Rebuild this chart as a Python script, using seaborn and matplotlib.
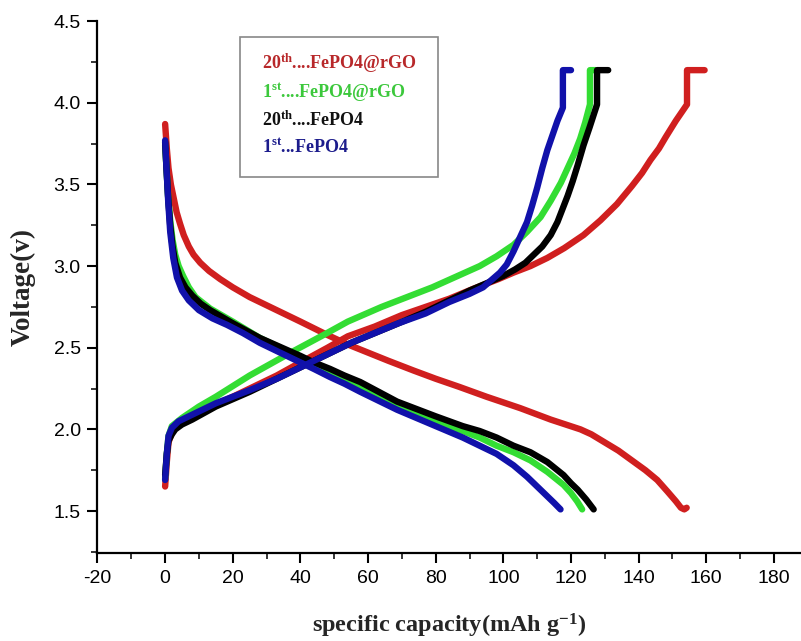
import numpy as np
import pandas as pd
import matplotlib
matplotlib.use("Agg")
import matplotlib.pyplot as plt
import seaborn as sns
from matplotlib.patches import Rectangle
from matplotlib.ticker import MultipleLocator

# ---------------- data ----------------
series_names = ["20th FePO4@rGO", "1st FePO4@rGO", "20th FePO4", "1st FePO4"]

# 20th cycle, FePO4@rGO (red)
red_chg_cap = [0, 0.5, 1, 2, 3, 5, 8, 15, 25, 33, 40, 48, 54, 62, 70, 77, 84, 91, 98.5, 103, 108,
               113, 118, 123.7, 128.7, 133.6, 138, 141, 143.5, 146, 148, 151, 154.3, 154.3, 159.5]
red_chg_v = [1.65, 1.80, 1.92, 1.98, 2.01, 2.04, 2.07, 2.15, 2.25, 2.33, 2.41, 2.50, 2.57, 2.63,
             2.70, 2.75, 2.80, 2.86, 2.92, 2.96, 3.00, 3.05, 3.11, 3.19, 3.28, 3.38, 3.49, 3.57,
             3.65, 3.72, 3.79, 3.89, 3.99, 4.20, 4.20]
red_dis_cap = [0, 0.5, 1, 1.7, 2.5, 3.4, 4.4, 5.5, 7, 8.4, 10.4, 13, 16.3, 20, 25, 33, 40, 47.8, 54,
               60, 66, 73.5, 80, 87, 95, 105, 114, 122.8, 126, 130, 134, 138, 142, 145.5, 148.5,
               151, 152.5, 153.5, 154.2]
red_dis_v = [3.87, 3.72, 3.60, 3.50, 3.42, 3.33, 3.26, 3.19, 3.12, 3.07, 3.02, 2.97, 2.92, 2.87,
             2.81, 2.73, 2.66, 2.58, 2.52, 2.47, 2.42, 2.36, 2.31, 2.26, 2.20, 2.13, 2.06, 2.00,
             1.97, 1.92, 1.87, 1.81, 1.75, 1.69, 1.62, 1.56, 1.52, 1.51, 1.52]

# 1st cycle, FePO4@rGO (green)
grn_chg_cap = [0, 0.5, 1, 2, 5, 10, 15, 25, 38, 47, 54, 64, 79, 93, 98, 103, 107, 111, 114, 117,
               119, 121, 122.7, 124.2, 125.6, 125.6, 127.2]
grn_chg_v = [1.70, 1.85, 1.96, 2.02, 2.07, 2.14, 2.20, 2.33, 2.48, 2.58, 2.66, 2.75, 2.87, 3.00,
             3.06, 3.13, 3.21, 3.30, 3.40, 3.51, 3.60, 3.69, 3.78, 3.88, 3.99, 4.20, 4.20]
grn_dis_cap = [0, 0.4, 0.9, 1.5, 2.2, 3, 4, 5.3, 7, 9, 13.3, 20, 28, 40, 44, 48.8, 53, 57.7, 68.6,
               80, 88, 93, 98, 103, 108, 113, 117.8, 120, 121.8, 123.3]
grn_dis_v = [3.74, 3.60, 3.42, 3.28, 3.16, 3.07, 3.00, 2.94, 2.87, 2.81, 2.74, 2.66, 2.56, 2.44,
             2.40, 2.35, 2.31, 2.27, 2.15, 2.05, 1.99, 1.95, 1.90, 1.86, 1.81, 1.74, 1.66, 1.61,
             1.56, 1.51]

# 20th cycle, FePO4 (black)
blk_chg_cap = [0, 0.5, 1, 2, 3, 5, 8, 15, 25, 33, 40, 48, 55, 62, 69, 77, 84, 90, 95.6, 100,
               103.5, 106.5, 109, 111.5, 114, 116, 117.5, 119, 120.5, 122, 123.7, 125.5, 127.7,
               127.7, 131]
blk_chg_v = [1.72, 1.85, 1.93, 1.97, 2.00, 2.03, 2.06, 2.14, 2.23, 2.31, 2.38, 2.46, 2.53, 2.59,
             2.65, 2.72, 2.79, 2.85, 2.90, 2.94, 2.98, 3.02, 3.07, 3.12, 3.19, 3.27, 3.35, 3.43,
             3.52, 3.62, 3.74, 3.85, 3.99, 4.20, 4.20]
blk_dis_cap = [0, 0.4, 0.9, 1.5, 2.2, 3, 4.4, 6, 8, 10.5, 13.3, 20, 28, 40, 44, 48.8, 53, 57.7,
               68.6, 80, 88, 93, 98, 103, 108, 113, 117.8, 120, 122, 124.5, 126.7]
blk_dis_v = [3.76, 3.60, 3.42, 3.25, 3.12, 3.02, 2.93, 2.87, 2.82, 2.77, 2.73, 2.65, 2.56, 2.45,
             2.41, 2.37, 2.33, 2.29, 2.17, 2.08, 2.02, 1.99, 1.95, 1.90, 1.86, 1.80, 1.72, 1.67,
             1.63, 1.57, 1.51]

# 1st cycle, FePO4 (blue)
blu_chg_cap = [0, 0.5, 1, 2, 4, 8, 15, 25, 33, 40, 48, 55, 62, 69, 77, 84, 90, 94, 99, 101, 103,
               105, 107, 108.5, 110, 111.5, 113, 114.5, 116, 117.6, 117.6, 120]
blu_chg_v = [1.69, 1.85, 1.96, 2.01, 2.05, 2.09, 2.16, 2.24, 2.31, 2.38, 2.46, 2.53, 2.59, 2.65,
             2.71, 2.78, 2.83, 2.87, 2.96, 3.01, 3.09, 3.18, 3.27, 3.37, 3.48, 3.60, 3.71, 3.80,
             3.89, 3.97, 4.20, 4.20]
blu_dis_cap = [0, 0.4, 0.9, 1.5, 2.4, 3.5, 5, 7, 10, 14, 18.3, 23, 28, 34, 40, 44, 48.8, 53, 57.7,
               68.6, 80, 88, 93, 98, 103, 107, 110, 113, 115, 116.9]
blu_dis_v = [3.77, 3.60, 3.40, 3.21, 3.05, 2.93, 2.85, 2.79, 2.73, 2.68, 2.64, 2.59, 2.53, 2.47,
             2.41, 2.37, 2.32, 2.28, 2.23, 2.12, 2.02, 1.95, 1.90, 1.85, 1.78, 1.71, 1.65, 1.59,
             1.55, 1.51]

x_ticks = [-20, 0, 20, 40, 60, 80, 100, 120, 140, 160, 180]
y_ticks = [1.5, 2.0, 2.5, 3.0, 3.5, 4.0, 4.5]

legend_labels = [r"20$^{\mathrm{th}}$....FePO4@rGO",
                 r"1$^{\mathrm{st}}$....FePO4@rGO",
                 r"20$^{\mathrm{th}}$....FePO4",
                 r"1$^{\mathrm{st}}$...FePO4"]

# ---------------- style ----------------
sns.set_style("ticks")
plt.rcParams["font.family"] = ["Liberation Sans", "DejaVu Sans"]
plt.rcParams["mathtext.fontset"] = "custom"
plt.rcParams["mathtext.rm"] = "Liberation Serif:bold"
plt.rcParams["mathtext.bf"] = "Liberation Serif:bold"
plt.rcParams["mathtext.it"] = "Liberation Serif:bold:italic"
plt.rcParams["axes.unicode_minus"] = False

line_colors = ["#D01F1F", "#33DD33", "#000000", "#1111AA"]
text_colors = ["#B8282A", "#3CC83C", "#111111", "#1C1C8C"]

fig = plt.figure(figsize=(8.01, 6.41), dpi=100)
ax = fig.add_axes([0.1217, 0.1373, 0.8783, 0.8297])

branches = [
    (red_chg_cap, red_chg_v, red_dis_cap, red_dis_v),
    (grn_chg_cap, grn_chg_v, grn_dis_cap, grn_dis_v),
    (blk_chg_cap, blk_chg_v, blk_dis_cap, blk_dis_v),
    (blu_chg_cap, blu_chg_v, blu_dis_cap, blu_dis_v),
]

frames = []
for name, (cc, cv, dc, dv) in zip(series_names, branches):
    frames.append(pd.DataFrame({"cap": cc, "v": cv, "series": name, "branch": name + " charge"}))
    frames.append(pd.DataFrame({"cap": dc, "v": dv, "series": name, "branch": name + " discharge"}))
df = pd.concat(frames, ignore_index=True)

for name, col in zip(series_names, line_colors):
    sub = df[df["series"] == name]
    for br, g in sub.groupby("branch", sort=False):
        sns.lineplot(data=g, x="cap", y="v", sort=False, estimator=None, color=col,
                     linewidth=4.6, ax=ax, legend=False,
                     solid_capstyle="round", solid_joinstyle="round")

ax.set_xlim(-20, 188)
ax.set_ylim(1.243, 4.5)
ax.set_xticks(x_ticks)
ax.set_yticks(y_ticks)
ax.set_yticklabels([f"{t:.1f}" for t in y_ticks])
ax.xaxis.set_minor_locator(MultipleLocator(10))
ax.yaxis.set_minor_locator(MultipleLocator(0.25))
ax.tick_params(axis="both", which="major", direction="out", length=7, width=1.5,
               labelsize=14, colors="black", pad=5)
ax.tick_params(axis="both", which="minor", direction="out", length=4, width=1.3)

for s in ["top", "right"]:
    ax.spines[s].set_visible(False)
for s in ["left", "bottom"]:
    ax.spines[s].set_linewidth(1.6)
    ax.spines[s].set_color("black")

ax.set_xlabel(r"specific capacity(mAh g$^{\mathbf{-1}}$)", fontsize=17.5,
              fontfamily="Liberation Serif", fontweight="bold", labelpad=18)
ax.set_ylabel("Voltage(v)", fontsize=19.5, fontfamily="Liberation Serif",
              fontweight="bold", labelpad=13)

# legend box (colored text only)
ax.add_patch(Rectangle((0.2026, 0.7067), 0.2814, 0.2633, transform=ax.transAxes,
                       facecolor="white", edgecolor="#888888", linewidth=1.2, zorder=5))
ys = [0.921, 0.8665, 0.8138, 0.763]
for lab, col, yy in zip(legend_labels, text_colors, ys):
    ax.text(0.234, yy, lab, transform=ax.transAxes, fontsize=13, color=col,
            fontfamily="Liberation Serif", fontweight="bold", va="center", ha="left", zorder=6)

fig.savefig("out.png", dpi=100)
